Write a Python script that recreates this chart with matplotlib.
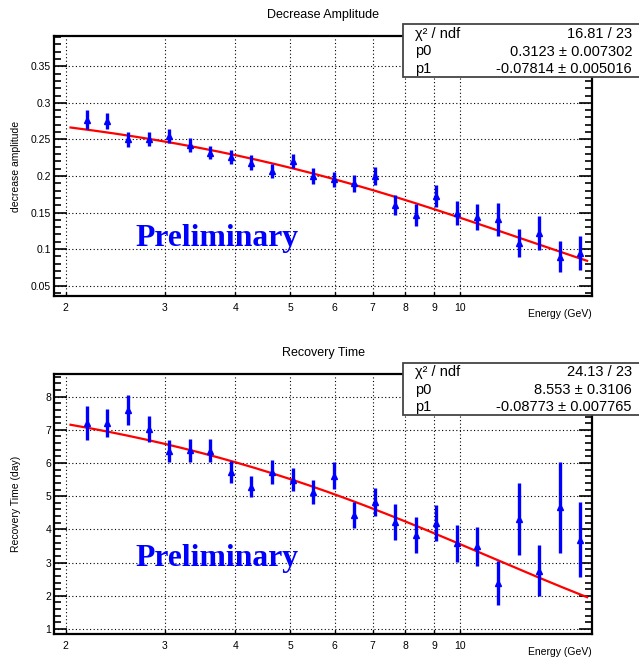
import numpy as np
import matplotlib
matplotlib.use('Agg')
import matplotlib.pyplot as plt
from matplotlib.patches import Rectangle
from matplotlib.ticker import MultipleLocator, NullLocator, FormatStrFormatter

plt.rcParams['font.family'] = ['Liberation Sans', 'DejaVu Sans']

# Energy bin centres (GeV), same for both panels
energy = [2.18, 2.37, 2.58, 2.81, 3.05, 3.32, 3.61, 3.93, 4.27, 4.64,
          5.05, 5.49, 5.97, 6.49, 7.06, 7.68, 8.35, 9.08, 9.88, 10.74,
          11.68, 12.70, 13.82, 15.02, 16.34]

# Decrease amplitude
amp = [0.2766, 0.275, 0.250, 0.2507, 0.2541, 0.2423, 0.2318, 0.2255, 0.2182, 0.2068,
       0.2202, 0.2005, 0.1955, 0.190, 0.2002, 0.1602, 0.1466, 0.172, 0.1498, 0.1439,
       0.1405, 0.1089, 0.1223, 0.0895, 0.0948]
amp_err = [0.013, 0.0114, 0.010, 0.010, 0.0095, 0.009, 0.009, 0.0095, 0.010, 0.010,
           0.0095, 0.011, 0.0105, 0.012, 0.012, 0.014, 0.015, 0.015, 0.0166, 0.0175,
           0.022, 0.019, 0.023, 0.021, 0.023]

# Recovery time (day)
rec = [7.21, 7.20, 7.59, 7.03, 6.35, 6.38, 6.37, 5.73, 5.29, 5.73,
       5.50, 5.13, 5.62, 4.44, 4.82, 4.22, 3.83, 4.19, 3.58, 3.49,
       2.39, 4.31, 2.76, 4.66, 3.69]
rec_err = [0.51, 0.43, 0.45, 0.40, 0.33, 0.34, 0.34, 0.34, 0.32, 0.36,
           0.35, 0.37, 0.41, 0.40, 0.42, 0.54, 0.53, 0.53, 0.55, 0.59,
           0.66, 1.08, 0.77, 1.38, 1.13]

# fit results shown in the stat boxes: f(E) = p0 * exp(p1 * E)
fit_amp = (0.3123, -0.07814)
fit_rec = (8.553, -0.08773)
stats_amp = ["16.81 / 23", "0.3123 \u00b1 0.007302", "-0.07814 \u00b1 0.005016"]
stats_rec = ["24.13 / 23", "8.553 \u00b1 0.3106", "-0.08773 \u00b1 0.007765"]

xticks = [2, 3, 4, 5, 6, 7, 8, 9, 10]

W, H = 639, 660
fig = plt.figure(figsize=(W / 100, H / 100), dpi=100)


def draw_panel(top_px, y, yerr, fit, ylim, ymajor, yminor, title, ylabel, stats, prelim_y):
    ax = fig.add_axes([54 / W, 1 - (top_px + 260) / H, 538 / W, 260 / H])
    ax.set_xscale('log')
    ax.set_xlim(1.907, 17.14)
    ax.set_ylim(*ylim)

    xf = np.geomspace(2.04, 16.8, 200)
    ax.plot(xf, fit[0] * np.exp(fit[1] * xf), color='red', lw=1.6, zorder=3)
    ax.errorbar(energy, y, yerr=yerr, fmt='^', color='blue', ms=4.5,
                elinewidth=2.4, capsize=0, zorder=4)

    ax.set_xticks(xticks, [str(t) for t in xticks])
    ax.xaxis.set_minor_locator(NullLocator())
    ax.yaxis.set_major_locator(MultipleLocator(ymajor))
    ax.yaxis.set_minor_locator(MultipleLocator(yminor))
    ax.yaxis.set_major_formatter(FormatStrFormatter('%g'))
    ax.tick_params(axis='x', which='major', direction='in', length=3, width=1,
                   labelsize=7.5, pad=5, top=False)
    ax.tick_params(axis='y', which='major', direction='in', length=9.5, width=1.2,
                   labelsize=7.5, pad=2, right=True)
    ax.tick_params(axis='y', which='minor', direction='in', length=5, width=1.2,
                   right=True)
    ax.grid(True, which='major', color='black', linestyle=(0, (1, 2.2)), lw=0.8)
    for s in ax.spines.values():
        s.set_linewidth(1.6)

    ax.text(-0.0706, 0.5, ylabel, rotation=90, ha='center', va='center',
            fontsize=7.5, transform=ax.transAxes)
    ax.text(1.0, -0.071, "Energy (GeV)", ha='right', va='center',
            fontsize=7.5, transform=ax.transAxes)
    ax.text(2.66, prelim_y, "Preliminary", color='blue', fontsize=22.8,
            family='Liberation Serif', weight='bold', ha='left', va='baseline')

    # title
    fig.text(323 / W, 1 - (top_px - 21) / H, title, ha='center', va='center', fontsize=9)

    # stat box
    box_top = top_px - 11.5
    fig.add_artist(Rectangle((403 / W, 1 - (box_top + 52.5) / H), 240 / W, 52.5 / H,
                             transform=fig.transFigure, facecolor='white',
                             edgecolor='#444444', lw=1.3, zorder=5))
    names = ["\u03c7\u00b2 / ndf", "p0", "p1"]
    for i, (n, v) in enumerate(zip(names, stats)):
        yy = 1 - (box_top + 9.5 + 17.5 * i) / H
        fig.text(415 / W, yy, n, ha='left', va='center', fontsize=10.5, zorder=6)
        fig.text(632 / W, yy, v, ha='right', va='center', fontsize=10.5, zorder=6)
    return ax


draw_panel(36, amp, amp_err, fit_amp, (0.0359, 0.3914), 0.05, 0.01,
           "Decrease Amplitude", "decrease amplitude", stats_amp, 0.104)
draw_panel(374, rec, rec_err, fit_rec, (0.85, 8.68), 1, 0.2,
           "Recovery Time", "Recovery Time (day)", stats_rec, 2.9)

fig.savefig('out.png', dpi=100)
